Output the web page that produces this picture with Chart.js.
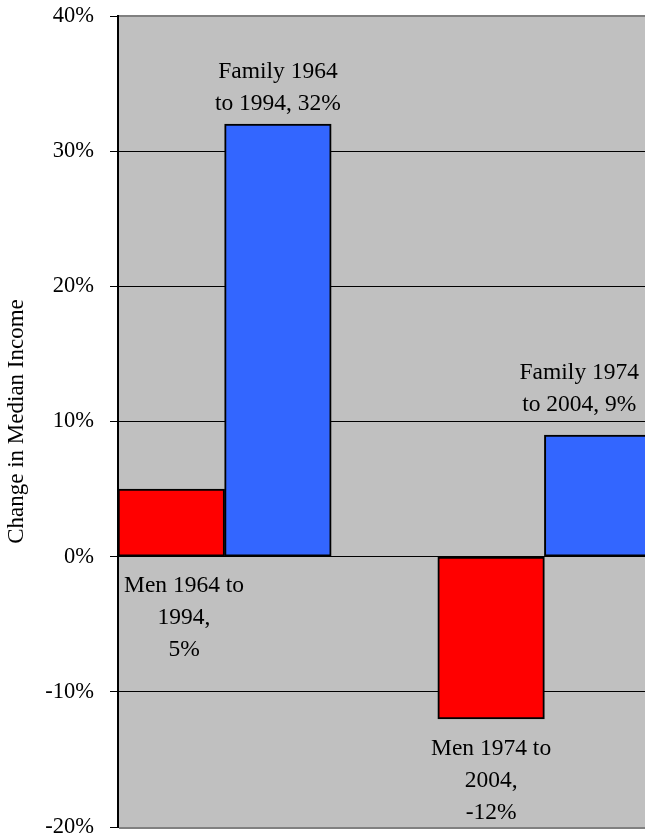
<!DOCTYPE html>
<html>
<head>
<meta charset="utf-8">
<script src="https://cdn.jsdelivr.net/npm/chart.js@4/dist/chart.umd.min.js"></script>
<style>
  html, body { margin: 0; padding: 0; background: #fff; overflow: hidden; }
  canvas { display: block; }
</style>
</head>
<body>
<!-- the plot runs a little past the right edge of the window, as in the original -->
<canvas id="chart" width="651" height="838"></canvas>
<script>
// values
const periods = [['1964', '1994'], ['1974', '2004']];
const menChange = [5, -12];
const familyChange = [32, 9];
const yTicks = [-20, -10, 0, 10, 20, 30, 40];

const SERIF = '"Liberation Serif", "Times New Roman", serif';

// one slot per bar, with an empty slot between the two periods
const slots = [];
const menData = [];
const familyData = [];
periods.forEach((p, i) => {
  if (i > 0) { slots.push(''); menData.push(null); familyData.push(null); }
  slots.push('Men ' + p.join('-'));
  menData.push(menChange[i]); familyData.push(null);
  slots.push('Family ' + p.join('-'));
  menData.push(null); familyData.push(familyChange[i]);
});

function menLabel(i) {
  return ['Men ' + periods[i][0] + ' to', periods[i][1] + ',', menChange[i] + '%'];
}
function familyLabel(i) {
  return ['Family ' + periods[i][0], 'to ' + periods[i][1] + ', ' + familyChange[i] + '%'];
}

const plotFrame = {
  id: 'plotFrame',
  beforeDraw(chart) {
    const { ctx, chartArea: a } = chart;
    ctx.save();
    ctx.fillStyle = '#c0c0c0';
    ctx.fillRect(a.left, a.top, a.right - a.left, a.bottom - a.top);
    ctx.restore();
  },
  afterDatasetsDraw(chart) {
    const { ctx, chartArea: a } = chart;
    ctx.save();
    ctx.strokeStyle = '#808080';
    ctx.lineWidth = 2;
    ctx.beginPath();
    ctx.moveTo(a.left + 1, a.top);
    ctx.lineTo(a.right, a.top);
    ctx.moveTo(a.left + 1, a.bottom + 1);
    ctx.lineTo(a.right, a.bottom + 1);
    ctx.stroke();
    ctx.restore();
  },
};

const barText = {
  id: 'barText',
  afterDatasetsDraw(chart) {
    const { ctx, chartArea: a } = chart;
    ctx.save();
    ctx.font = '23.5px ' + SERIF;
    ctx.fillStyle = '#000';
    ctx.textAlign = 'center';
    ctx.textBaseline = 'alphabetic';
    const lineH = 32;
    const pad = 6;
    const rightEdge = Math.min(a.right, window.innerWidth);
    const place = (el, lines, below, lift) => {
      const w = Math.max(...lines.map(t => ctx.measureText(t).width));
      let x = el.x;
      x = Math.max(x, a.left + pad + w / 2);
      x = Math.min(x, rightEdge - pad - w / 2);
      let y;
      if (below) {
        y = Math.max(el.y, el.base) + 36;
      } else {
        y = Math.min(el.y, el.base) - 14 - lift - lineH * (lines.length - 1);
      }
      lines.forEach((t, k) => ctx.fillText(t, x, y + k * lineH));
    };
    const menMeta = chart.getDatasetMeta(0);
    const famMeta = chart.getDatasetMeta(1);
    let pi = 0;
    menData.forEach((v, j) => {
      if (v === null) return;
      place(menMeta.data[j], menLabel(pi), true, 0);
      pi++;
    });
    pi = 0;
    familyData.forEach((v, j) => {
      if (v === null) return;
      place(famMeta.data[j], familyLabel(pi), false, pi === 1 ? 10 : 0);
      pi++;
    });
    ctx.restore();
  },
};

new Chart(document.getElementById('chart'), {
  type: 'bar',
  data: {
    labels: slots,
    datasets: [
      {
        label: 'Men',
        data: menData,
        backgroundColor: '#ff0000',
        borderColor: '#000',
        borderWidth: 2,
        borderSkipped: false,
      },
      {
        label: 'Family',
        data: familyData,
        backgroundColor: '#3366ff',
        borderColor: '#000',
        borderWidth: 2,
        borderSkipped: false,
      },
    ],
  },
  options: {
    responsive: false,
    animation: false,
    categoryPercentage: 1,
    barPercentage: 1,
    layout: { padding: { top: 16, bottom: 11, left: 0, right: 0 } },
    plugins: {
      legend: { display: false },
      tooltip: { enabled: false },
    },
    scales: {
      x: {
        stacked: true,
        display: false,
      },
      y: {
        stacked: true,
        min: yTicks[0],
        max: yTicks[yTicks.length - 1],
        afterBuildTicks: (scale) => { scale.ticks = yTicks.map(v => ({ value: v })); },
        afterFit: (scale) => {
          scale.width = 118;
          scale.paddingTop = 0;
          scale.paddingBottom = 0;
        },
        grid: {
          color: '#000',
          lineWidth: 1,
          tickLength: 8,
          tickColor: '#000',
        },
        border: { color: '#000', width: 2 },
        ticks: {
          color: '#000',
          padding: 16,
          font: { family: SERIF, size: 22.5 },
          callback: (v) => v + '%',
        },
        title: {
          display: true,
          text: 'Change in Median Income',
          color: '#000',
          font: { family: SERIF, size: 23 },
          padding: { top: 3, bottom: 0 },
        },
      },
    },
  },
  plugins: [plotFrame, barText],
});
</script>
</body>
</html>
